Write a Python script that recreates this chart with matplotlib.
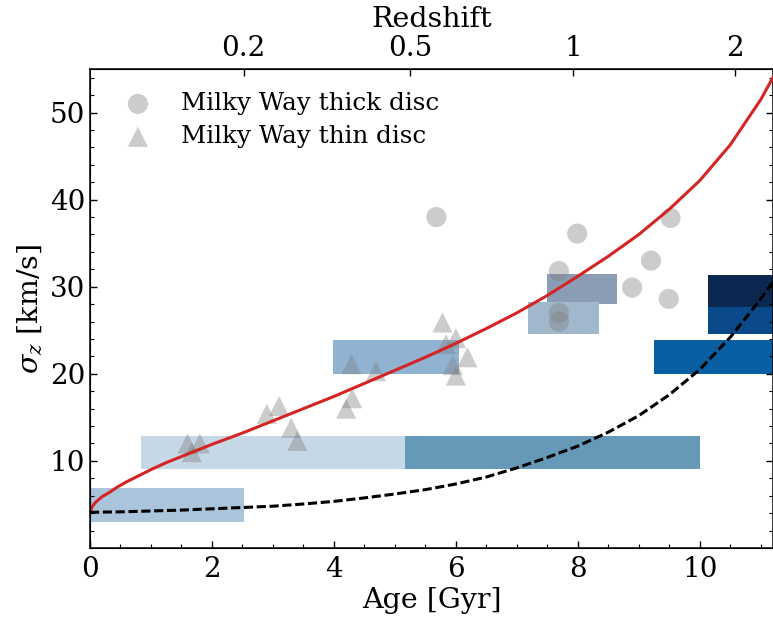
"""Velocity dispersion vs age: Milky Way discs, observed bins and two heating curves."""

import matplotlib
matplotlib.use("Agg")
import matplotlib.pyplot as plt
from matplotlib.patches import Rectangle

plt.rcParams["font.family"] = ["DejaVu Serif"]
plt.rcParams["mathtext.fontset"] = "dejavuserif"

# Milky Way thick disc (circles)
thick_age = [5.68, 7.99, 7.69, 7.69, 7.69, 9.20, 9.52, 8.89, 9.49]
thick_sig = [38.0, 36.1, 31.8, 27.0, 26.0, 33.0, 37.9, 29.9, 28.6]

# Milky Way thin disc (triangles)
thin_age = [1.60, 1.80, 1.67, 2.90, 3.10, 3.30, 3.40, 4.20, 4.30, 4.29, 4.69,
            5.78, 5.84, 6.00, 6.19, 6.00, 5.95]
thin_sig = [12.0, 12.0, 11.0, 15.4, 16.3, 13.8, 12.3, 16.0, 17.2, 21.1, 20.3,
            25.9, 23.4, 24.1, 21.9, 19.8, 21.0]

# observed age bins
bin_age_lo = [0.00, 0.83, 5.17, 3.98, 7.50, 7.18, 10.13, 10.13, 9.25]
bin_age_hi = [2.52, 5.17, 10.00, 6.05, 8.64, 8.35, 12.00, 12.00, 12.00]
bin_sig_lo = [3.0, 9.1, 9.1, 20.0, 28.0, 24.6, 24.6, 27.7, 20.0]
bin_sig_hi = [6.9, 12.9, 12.9, 23.9, 31.5, 28.2, 31.4, 31.4, 23.9]
bin_colour = ["#aac4db", "#c6d7e6", "#6698b8", "#8fb3d1", "#8a9db4",
              "#a1b7cc", "#0a4a8a", "#0b2850", "#0a5fa3"]

# model curves
red_age = [0.00, 0.05, 0.10, 0.20, 0.30, 0.45, 0.60, 0.80, 1.00, 1.25, 1.50,
           1.75, 2.00, 2.50, 3.00, 3.50, 4.00, 4.50, 5.00, 5.50, 6.00, 6.50,
           7.00, 7.50, 8.00, 8.50, 9.00, 9.50, 10.00, 10.50, 11.00, 11.30]
red_sig = [4.2, 4.9, 5.3, 5.9, 6.3, 7.0, 7.6, 8.3, 9.0, 9.8, 10.5,
           11.2, 11.9, 13.2, 14.6, 16.0, 17.4, 18.9, 20.4, 21.9, 23.5, 25.2,
           27.0, 29.0, 31.2, 33.5, 36.0, 38.9, 42.2, 46.3, 51.5, 55.3]
black_age = [0.00, 0.50, 1.00, 1.50, 2.00, 2.50, 3.00, 3.50, 4.00, 4.50, 5.00,
             5.50, 6.00, 6.50, 7.00, 7.50, 8.00, 8.50, 9.00, 9.50, 10.00,
             10.50, 11.00, 11.30]
black_sig = [4.1, 4.15, 4.25, 4.35, 4.5, 4.65, 4.8, 5.05, 5.35, 5.75, 6.2,
             6.7, 7.35, 8.15, 9.2, 10.4, 11.7, 13.3, 15.2, 17.6, 20.5,
             24.2, 28.6, 31.6]

# redshift ticks on the top axis (lookback time in Gyr)
z_labels = ["0.2", "0.5", "1", "2"]
z_age = [2.52, 5.25, 7.92, 10.57]

fig = plt.figure(figsize=(7.73, 6.18), dpi=100)
ax = fig.add_axes([0.1164, 0.1133, 0.8836, 0.775])

for lo, hi, slo, shi, c in zip(bin_age_lo, bin_age_hi, bin_sig_lo, bin_sig_hi, bin_colour):
    ax.add_patch(Rectangle((lo, slo), hi - lo, shi - slo, facecolor=c,
                           edgecolor="none", zorder=1))

ax.scatter(thick_age, thick_sig, s=210, marker="o", color="0.5", alpha=0.4,
           edgecolor="none", zorder=2, label="Milky Way thick disc")
ax.scatter(thin_age, thin_sig, s=210, marker="^", color="0.5", alpha=0.4,
           edgecolor="none", zorder=2, label="Milky Way thin disc")

ax.plot(red_age, red_sig, color="#d42424", lw=2.2, zorder=3)
ax.plot(black_age, black_sig, color="black", lw=2.2, ls=(0, (3.0, 1.2)), zorder=3)

ax.set_xlim(0, 11.2)
ax.set_ylim(0, 55)
ax.set_xticks([0, 2, 4, 6, 8, 10])
ax.set_yticks([10, 20, 30, 40, 50])
ax.xaxis.set_minor_locator(matplotlib.ticker.MultipleLocator(0.5))
ax.yaxis.set_minor_locator(matplotlib.ticker.MultipleLocator(2))
ax.tick_params(which="both", direction="in", top=True, right=True, labelsize=20)
ax.tick_params(which="major", length=5, width=1)
ax.tick_params(which="minor", length=3, width=0.8)
ax.tick_params(axis="x", pad=6)
ax.set_xlabel("Age [Gyr]", fontsize=20.5, labelpad=3)
ax.set_ylabel(r"$\sigma_z$ [km/s]", fontsize=20.5, labelpad=4)
for sp in ax.spines.values():
    sp.set_linewidth(1.1)

top = ax.twiny()
top.set_xlim(ax.get_xlim())
top.set_xticks(z_age)
top.set_xticklabels(z_labels)
top.tick_params(direction="in", length=5, width=1, labelsize=20, pad=5)
top.set_xlabel("Redshift", fontsize=20.5, labelpad=6)

ax.legend(loc="upper left", frameon=False, fontsize=17.7, handletextpad=0.75,
          borderaxespad=0.55, borderpad=0.4, labelspacing=0.4)

fig.savefig("out.png", dpi=100)
